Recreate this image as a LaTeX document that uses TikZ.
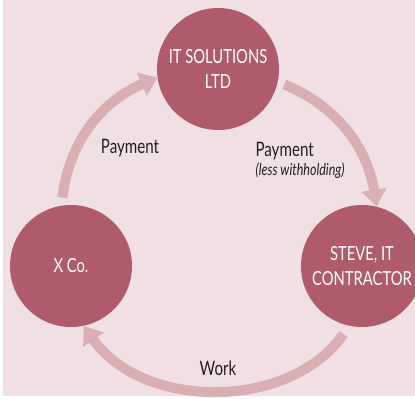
\documentclass[tikz,border=0pt]{standalone}
\usepackage{fontspec}
\setmainfont{Lato}[FakeStretch=0.76]
\usetikzlibrary{arrows.meta}
\definecolor{bgpink}{HTML}{F0E0E3}
\definecolor{firmred}{HTML}{AF5B6B}
\definecolor{flowpink}{HTML}{D9AFB3}
\definecolor{inkgray}{HTML}{231F20}

\begin{document}
\begin{tikzpicture}
	[x=1bp,y=1bp,
	firm/.style={circle,fill=firmred,minimum size=122bp,inner sep=0pt,
		text=white,align=center,font=\fontsize{19.5}{26}\selectfont},
	flow/.style={draw=flowpink,line width=10bp,
		-{Triangle[width=24bp,length=17bp]}},
	tag/.style={text=inkgray,font=\fontsize{20}{22}\selectfont}]
	
	\useasboundingbox (0,0) rectangle (415,399);
	\fill[bgpink] (3,3) rectangle (415,399);
	
	\node[firm] (its) at (218,330) {IT SOLUTIONS\\LTD};
	\node[firm] (xco) at (71,133) {X Co.};
	\node[firm] (steve) at (362,133) {STEVE, IT\\CONTRACTOR};
	
	\draw[flow,shorten <=8bp] (xco.99) to[bend left=30] (its.188);
	\draw[flow,shorten <=7bp] (its.-12) to[bend left=29] (steve.76);
	\draw[flow,shorten <=10bp] (steve.258) to[bend left=55] (xco.282);
	
	\node[tag] (payleft) at (130,251) {Payment};
	\node[tag,align=left,anchor=north west] (payright) at (252,260)
		{Payment\\[-3bp]{\fontsize{16.5}{18}\selectfont\itshape (less withholding)}};
	\node[tag] (work) at (218,31) {Work};
	
\end{tikzpicture}
\end{document}
